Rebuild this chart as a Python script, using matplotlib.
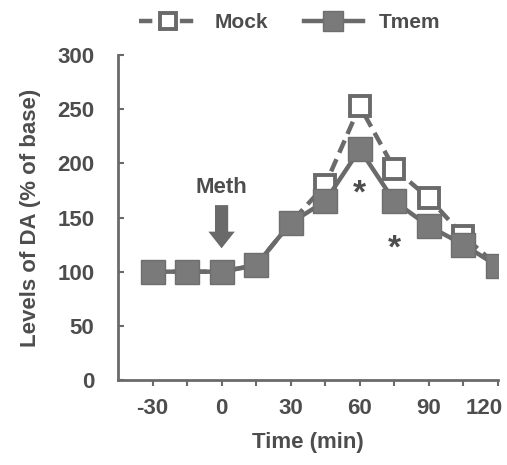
import matplotlib
matplotlib.use("Agg")
import matplotlib.pyplot as plt
from matplotlib.transforms import ScaledTranslation

# time points (min) and DA levels (% of base)
time = [-30, -15, 0, 15, 30, 45, 60, 75, 90, 105, 120]
mock = [100, 100, 100, 106, 145, 180, 253, 195, 168, 133, 105]
tmem = [100, 100, 100, 106, 145, 165, 213, 165, 142, 125, 105]
stars_x = [60, 75]
stars_y = [172, 121]

grey = '#6a6a6a'
txt = '#4d4d4d'
plt.rcParams['font.family'] = ['Liberation Sans', 'DejaVu Sans']
plt.rcParams['font.weight'] = 'bold'
plt.rcParams['axes.labelweight'] = 'bold'

fig = plt.figure(figsize=(5.07, 4.65), dpi=100)
ax = fig.add_axes([0.2327, 0.1828, 0.982 - 0.2327, 0.8817 - 0.1828])

ax.plot(time, mock, color=grey, lw=3.2, ls=(0, (3, 1.6)), marker='s', ms=14,
        mfc='white', mec=grey, mew=2.8, label='Mock', zorder=2)
ax.plot(time, tmem, color=grey, lw=3.2, marker='s', ms=17,
        mfc='#7a7a7a', mec='#6e6e6e', mew=1, label='Tmem', zorder=3)

for sx, sy in zip(stars_x, stars_y):
    ax.text(sx, sy, '*', ha='center', va='center', fontsize=24, color=txt)

ax.text(0, 178, 'Meth', ha='center', va='center', fontsize=16, color=txt)
ax.annotate('', xy=(0, 119), xytext=(0, 164),
            arrowprops=dict(arrowstyle='simple,head_width=1.9,head_length=1.2,tail_width=0.95',
                            color=grey, lw=0, mutation_scale=10))

ax.set_xlim(-45, 120)
ax.set_ylim(0, 300)
ax.set_xticks(range(-30, 121, 15))
ax.set_xticklabels([str(t) if t % 30 == 0 else '' for t in range(-30, 121, 15)])
ax.set_yticks(range(0, 301, 50))
ax.tick_params(axis='x', direction='out', length=4, width=1.5, color=grey,
               labelsize=16, labelcolor=txt, pad=9)
ax.tick_params(axis='y', direction='in', length=4, width=1.5, color=grey,
               labelsize=16, labelcolor=txt, pad=17)
for s in ['top', 'right']:
    ax.spines[s].set_visible(False)
for s in ['left', 'bottom']:
    ax.spines[s].set_color(grey)
    ax.spines[s].set_linewidth(2)

# last x label sits a bit left so it stays inside the figure
lab = ax.get_xticklabels()[-1]
lab.set_transform(lab.get_transform() + ScaledTranslation(-10 / 72, 0, fig.dpi_scale_trans))

ax.set_xlabel('Time (min)', fontsize=16, color=txt, labelpad=9)
ax.set_ylabel('Levels of DA (% of base)', fontsize=16, color=txt, labelpad=12)

leg = fig.legend(loc='center', bbox_to_anchor=(0.572, 0.952), ncol=2, frameon=False,
                 fontsize=15, handlelength=2.8, columnspacing=1.75, handletextpad=0.8,
                 markerscale=0.85)
for t in leg.get_texts():
    t.set_color(txt)

fig.savefig('out.png', dpi=100)
